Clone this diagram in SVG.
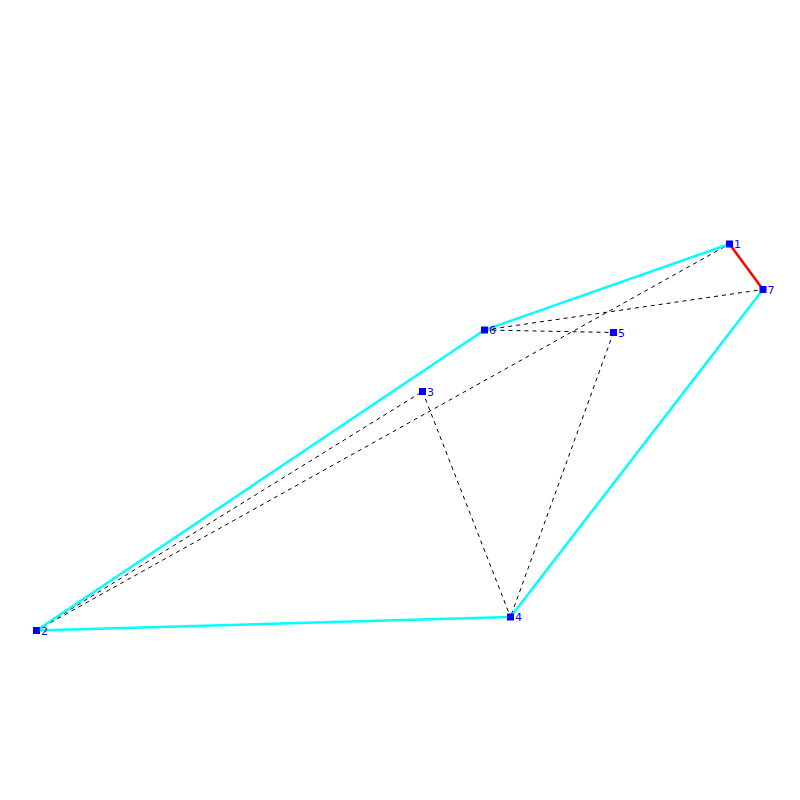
<svg xmlns="http://www.w3.org/2000/svg" width="800" height="800" viewBox="0 0 800 800">
<style>
.hull{stroke:#00ffff;stroke-width:2.5;fill:none}
.red{stroke:#ff0000;stroke-width:2.5;fill:none}
.dash{stroke:#000;stroke-width:1;stroke-dasharray:4,4;fill:none}
.n rect{fill:#0000ff}
.n text{fill:#0000ff;font-family:"DejaVu Sans",sans-serif;font-size:11px}
</style>
<rect width="800" height="800" fill="#fff"/>
<g id="connectors">
<line class="dash" x1="484.5" y1="330" x2="763" y2="289.5"/>
<line class="dash" x1="484.5" y1="330" x2="613.5" y2="332.5"/>
<line class="dash" x1="36.5" y1="630.5" x2="422.5" y2="391.5"/>
<line class="dash" x1="36.5" y1="630.5" x2="729.5" y2="244"/>
<line class="dash" x1="422.5" y1="391.5" x2="510.5" y2="617"/>
<line class="dash" x1="613.5" y1="332.5" x2="510.5" y2="617"/>
<line class="hull" x1="729.5" y1="244" x2="484.5" y2="330"/>
<line class="hull" x1="484.5" y1="330" x2="36.5" y2="630.5"/>
<line class="hull" x1="36.5" y1="630.5" x2="510.5" y2="617"/>
<line class="hull" x1="510.5" y1="617" x2="763" y2="289.5"/>
<line class="red" x1="729.5" y1="244" x2="763" y2="289.5"/>
</g>
<g id="n1" class="n"><rect x="726" y="240.5" width="7" height="7"/><text x="734" y="248">1</text></g>
<g id="n2" class="n"><rect x="33" y="627" width="7" height="7"/><text x="41" y="634.5">2</text></g>
<g id="n3" class="n"><rect x="419" y="388" width="7" height="7"/><text x="427" y="395.5">3</text></g>
<g id="n4" class="n"><rect x="507" y="613.5" width="7" height="7"/><text x="515" y="621">4</text></g>
<g id="n5" class="n"><rect x="610" y="329" width="7" height="7"/><text x="618" y="336.5">5</text></g>
<g id="n6" class="n"><rect x="481" y="326.5" width="7" height="7"/><text x="489" y="334">6</text></g>
<g id="n7" class="n"><rect x="759.5" y="286" width="7" height="7"/><text x="767.5" y="293.5">7</text></g>
</svg>
